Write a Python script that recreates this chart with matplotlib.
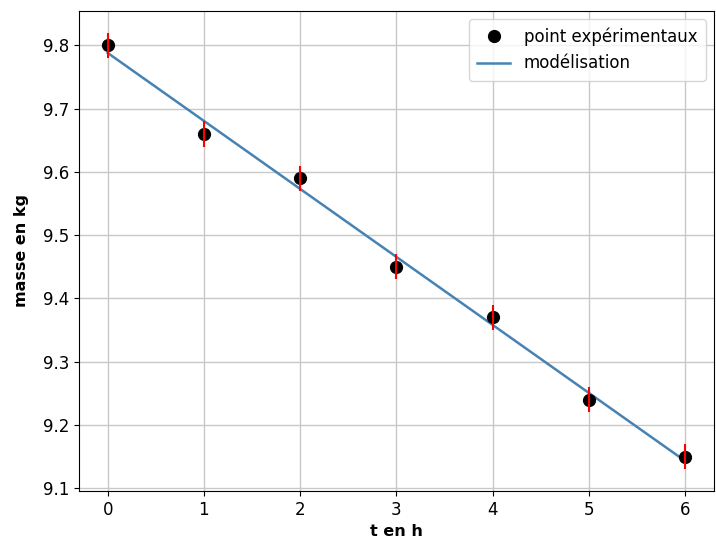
import numpy as np
import matplotlib
matplotlib.use("Agg")
import matplotlib.pyplot as plt

t = [0, 1, 2, 3, 4, 5, 6]
masse = [9.80, 9.66, 9.59, 9.45, 9.37, 9.24, 9.15]
err = [0.02, 0.02, 0.02, 0.02, 0.02, 0.02, 0.02]

coef = np.polyfit(t, masse, 1)
model = np.polyval(coef, t)

fig = plt.figure(figsize=(7.16, 5.48), dpi=100)
ax = fig.add_axes([0.110, 0.104, 0.887, 0.876])
ax.errorbar(t, masse, yerr=err, fmt='none', ecolor='red', elinewidth=1.5, zorder=4)
ax.plot(t, masse, 'o', color='black', markersize=8.5, label='point expérimentaux', zorder=3)
ax.plot(t, model, color='#4682b4', linewidth=1.8, label='modélisation', zorder=2)
ax.grid(True, color='#c8c8c8', linewidth=1.0)
ax.set_axisbelow(True)
ax.set_xlabel('t en h', fontsize=11.5, fontweight='bold')
ax.set_ylabel('masse en kg', fontsize=11.5, fontweight='bold', labelpad=10)
ax.tick_params(labelsize=12)
ax.legend(loc='upper right', fontsize=12, borderpad=0.5)
fig.savefig('out.png', dpi=100)
